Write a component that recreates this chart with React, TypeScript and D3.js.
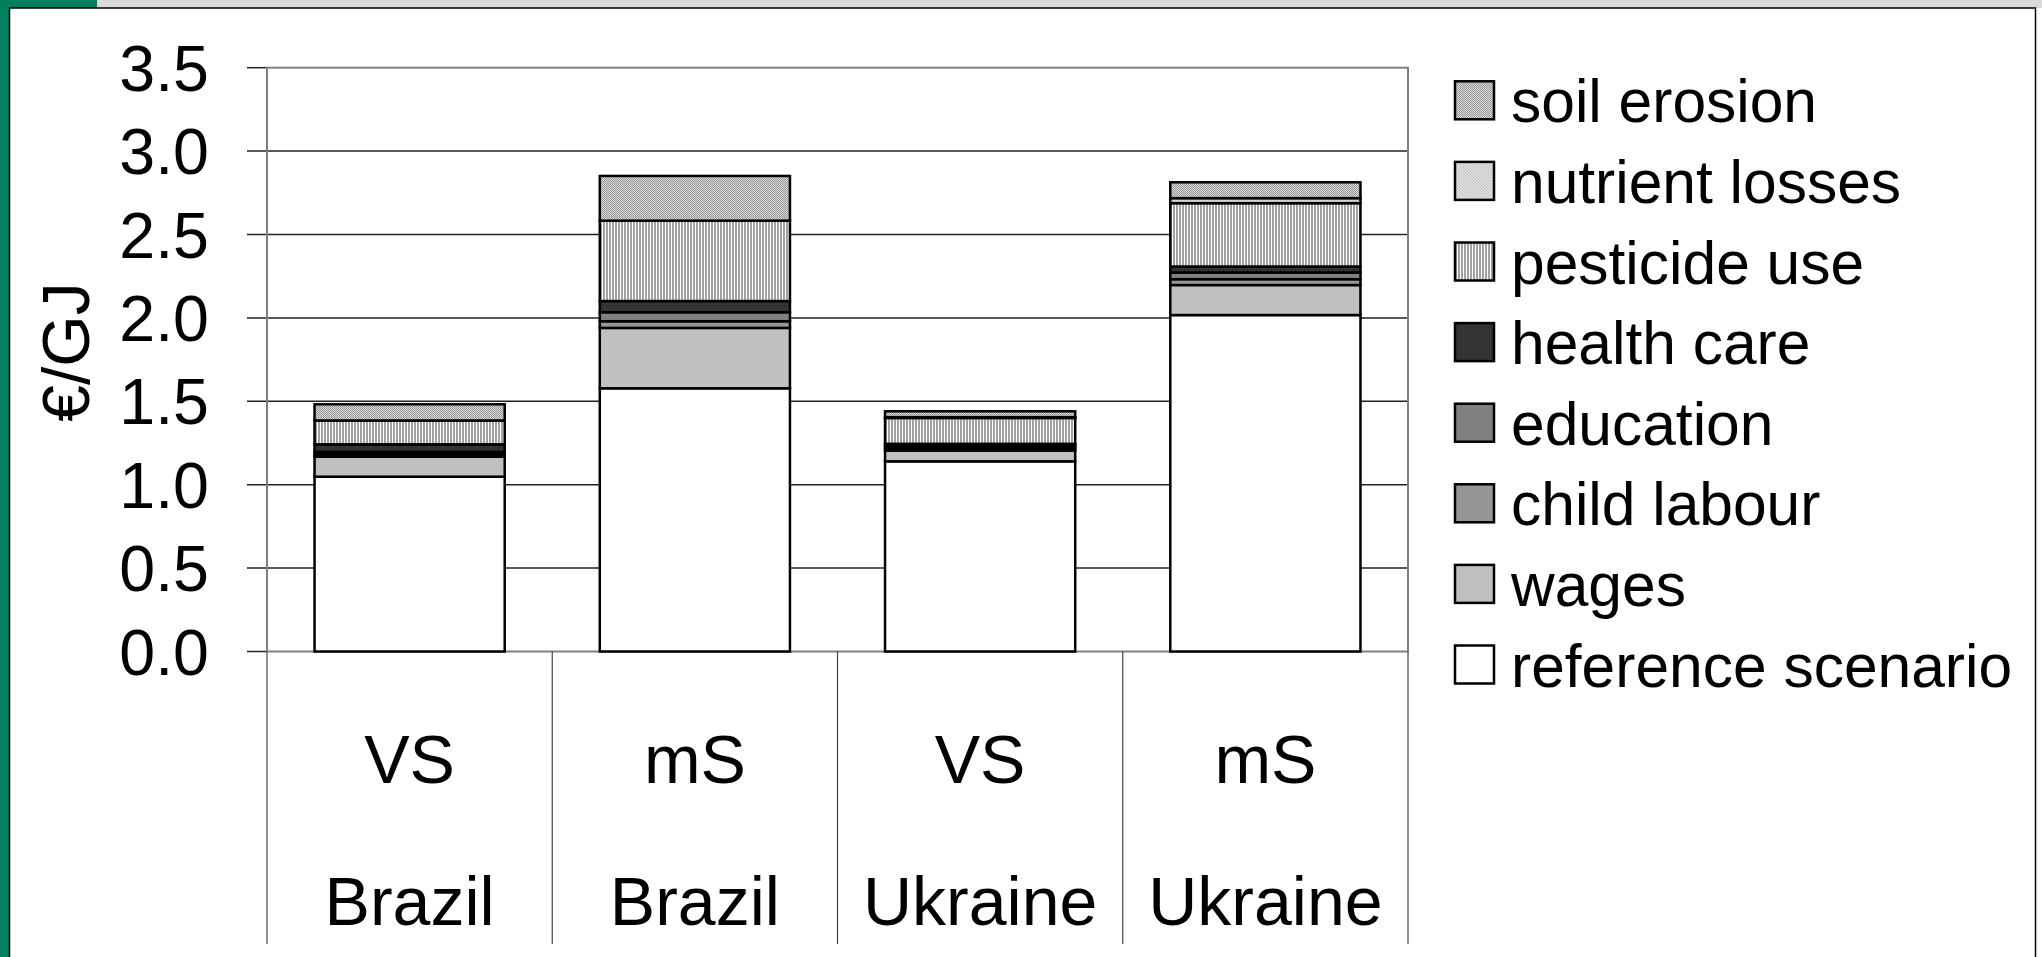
import React from "react";
import * as d3 from "d3";

const scenarios = ["VS", "mS", "VS", "mS"];
const countries = ["Brazil", "Brazil", "Ukraine", "Ukraine"];

const referenceScenario = [1.048, 1.578, 1.14, 2.017];
const wages = [0.12, 0.362, 0.065, 0.18];
const childLabour = [0.014, 0.04, 0.015, 0.035];
const education = [0.015, 0.054, 0.015, 0.04];
const healthCare = [0.045, 0.067, 0.01, 0.036];
const pesticideUse = [0.143, 0.482, 0.155, 0.38];
const nutrientLosses = [0, 0, 0.005, 0.03];
const soilErosion = [0.097, 0.268, 0.035, 0.095];

const yTicks = [0, 0.5, 1.0, 1.5, 2.0, 2.5, 3.0, 3.5];

const seriesKeys = [
  "reference scenario",
  "wages",
  "child labour",
  "education",
  "health care",
  "pesticide use",
  "nutrient losses",
  "soil erosion",
];
const seriesValues = [
  referenceScenario,
  wages,
  childLabour,
  education,
  healthCare,
  pesticideUse,
  nutrientLosses,
  soilErosion,
];
const fills: Record<string, string> = {
  "reference scenario": "#ffffff",
  wages: "#c0c0c0",
  "child labour": "#969696",
  education: "#808080",
  "health care": "#333333",
  "pesticide use": "url(#pestPat)",
  "nutrient losses": "url(#nutPat)",
  "soil erosion": "url(#soilPat)",
};

const FONT = "'Liberation Sans', Arial, Helvetica, sans-serif";

export default function App() {
  const W = 2042;
  const H = 957;
  const left = 267;
  const right = 1408;
  const top = 67.7;
  const bottom = 651.5;

  const rows = scenarios.map((s, i) => {
    const r: Record<string, number> = { idx: i };
    seriesKeys.forEach((k, j) => (r[k] = seriesValues[j][i]));
    return r;
  });
  const stacked = d3.stack<Record<string, number>>().keys(seriesKeys)(rows);

  const x = d3
    .scaleBand<number>()
    .domain(d3.range(scenarios.length))
    .range([left, right])
    .paddingInner(1 / 3)
    .paddingOuter(1 / 6);
  const step = x.step();
  const y = d3.scaleLinear().domain([0, 3.5]).range([bottom, top]);

  const legendOrder = [...seriesKeys].reverse();
  const legendX = 1455;
  const legendY0 = 100.3;
  const legendStep = 80.6;

  return (
    <div>
      <style>{"body{margin:0;}"}</style>
      <svg width={W} height={H} style={{ display: "block" }}>
        <defs>
          <pattern id="soilPat" width="2" height="2" patternUnits="userSpaceOnUse">
            <rect width="2" height="2" fill="#d6d6d6" />
            <rect x="0" y="0" width="1" height="1" fill="#9a9a9a" />
            <rect x="1" y="1" width="1" height="1" fill="#9a9a9a" />
          </pattern>
          <pattern id="nutPat" width="3" height="3" patternUnits="userSpaceOnUse">
            <rect width="3" height="3" fill="#dedede" />
            <rect x="0" y="0" width="1" height="1" fill="#c2c2c2" />
            <rect x="1" y="1" width="1" height="1" fill="#c2c2c2" />
            <rect x="2" y="2" width="1" height="1" fill="#c2c2c2" />
          </pattern>
          <pattern id="pestPat" width="3" height="3" patternUnits="userSpaceOnUse">
            <rect width="3" height="3" fill="#ffffff" />
            <rect x="0" y="0" width="2" height="3" fill="#a2a2a2" />
          </pattern>
        </defs>

        {/* slide background */}
        <rect x={0} y={0} width={W} height={H} fill="#ffffff" />
        <rect x={0} y={0} width={W} height={8} fill="#d9d9d9" />
        <rect x={0} y={0} width={97} height={8} fill="#00805c" />
        <rect x={0} y={0} width={9} height={H} fill="#00805c" />
        <rect x={9.5} y={8} width={2026} height={H} fill="#ffffff" stroke="#000" strokeWidth={1.5} />

        {/* gridlines */}
        {yTicks.map((t) => (
          <line
            key={"g" + t}
            x1={left - 20}
            x2={t === 3.5 || t === 0 ? left : right}
            y1={y(t)}
            y2={y(t)}
            stroke="#222"
            strokeWidth={1.5}
          />
        ))}
        {/* plot area border */}
        <rect x={left} y={top} width={right - left} height={bottom - top} fill="none" stroke="#808080" strokeWidth={2} />

        {/* category dividers */}
        {d3.range(scenarios.length + 1).map((i) => (
          <line
            key={"d" + i}
            x1={left + i * step}
            x2={left + i * step}
            y1={bottom}
            y2={944}
            stroke="#444"
            strokeWidth={1.2}
          />
        ))}

        {/* bars */}
        {stacked.map((s) => (
          <g key={s.key}>
            {s.map((d, i) => (
              <rect
                key={i}
                x={x(i)}
                y={y(d[1])}
                width={x.bandwidth()}
                height={Math.max(0, y(d[0]) - y(d[1]))}
                fill={fills[s.key]}
                stroke="#000"
                strokeWidth={2.5}
              />
            ))}
          </g>
        ))}

        {/* tick labels */}
        {yTicks.map((t) => (
          <text
            key={"t" + t}
            x={209}
            y={y(t) + 23}
            textAnchor="end"
            fontFamily={FONT}
            fontSize={64.5}
            fill="#000"
          >
            {t.toFixed(1)}
          </text>
        ))}

        {/* y title */}
        <text
          transform={`translate(89,352) rotate(-90)`}
          textAnchor="middle"
          fontFamily={FONT}
          fontSize={66}
          fill="#000"
        >
          €/GJ
        </text>

        {/* category labels */}
        {scenarios.map((s, i) => (
          <g key={"c" + i}>
            <text x={x(i)! + x.bandwidth() / 2} y={783} textAnchor="middle" fontFamily={FONT} fontSize={68}>
              {s}
            </text>
            <text x={x(i)! + x.bandwidth() / 2} y={925} textAnchor="middle" fontFamily={FONT} fontSize={68}>
              {countries[i]}
            </text>
          </g>
        ))}

        {/* legend */}
        {legendOrder.map((k, i) => {
          const cy = legendY0 + i * legendStep;
          return (
            <g key={"l" + k}>
              <rect x={legendX} y={cy - 19} width={39} height={38} fill={fills[k]} stroke="#000" strokeWidth={2.5} />
              <text x={1511} y={cy + 22} fontFamily={FONT} fontSize={60.5} fill="#000">
                {k}
              </text>
            </g>
          );
        })}
      </svg>
    </div>
  );
}
